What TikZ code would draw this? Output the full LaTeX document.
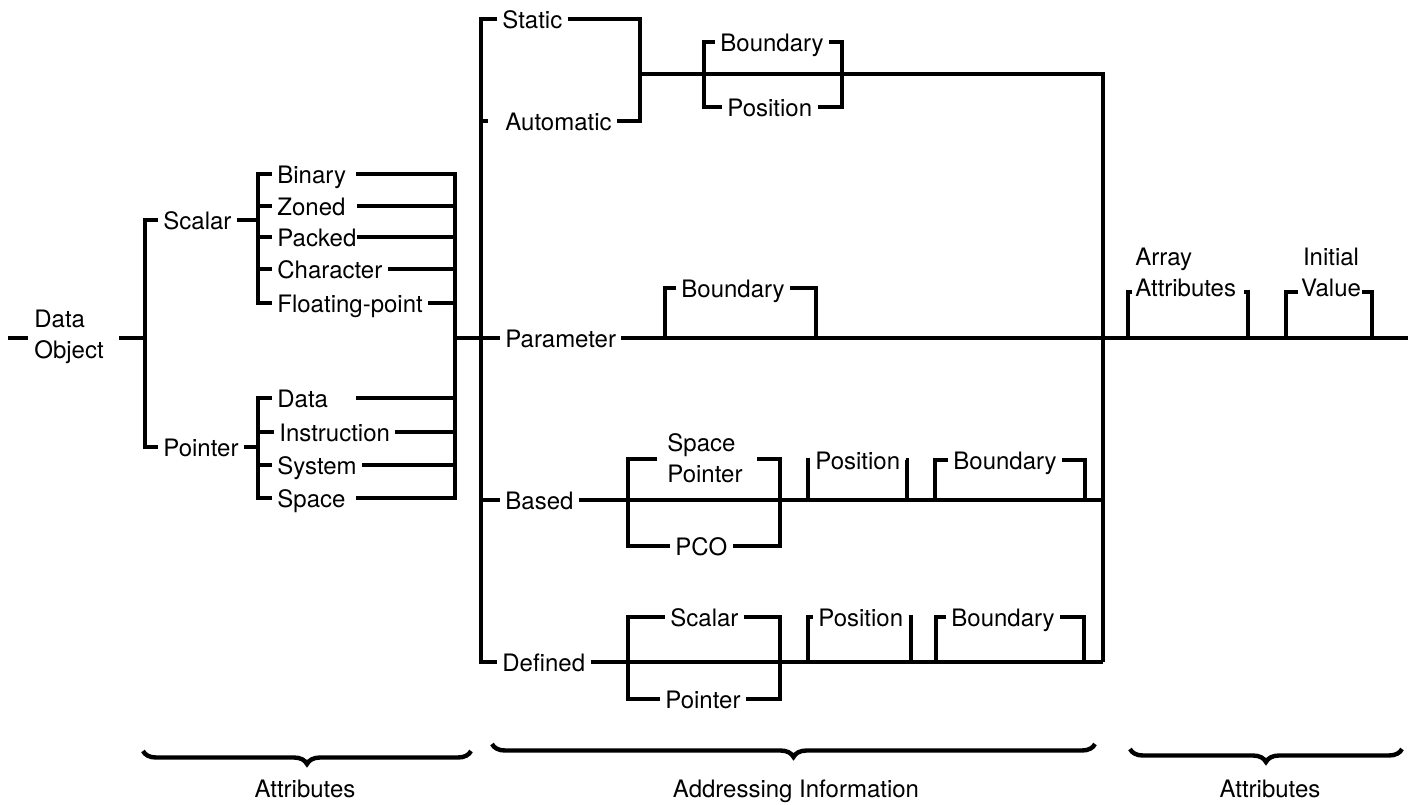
\documentclass[tikz,border=0pt]{standalone}
\usepackage{fontspec}
\setmainfont{TeX Gyre Heros}
\usetikzlibrary{decorations.pathreplacing}
\newcommand\lblfont{\fontsize{12}{15.5}\selectfont}
\begin{document}
\begin{tikzpicture}[x=0.5pt,y=-0.5pt,
  wire/.style={line width=1.6pt,line join=miter},
  lab/.style={anchor=base west,inner xsep=2.5pt,inner ysep=0pt,font=\lblfont},
  two/.style={align=left,inner sep=0pt,font=\lblfont},
  grouplab/.style={anchor=base,inner sep=0pt,font=\lblfont},
  brc/.style={decorate,decoration={brace,mirror,amplitude=6.5pt},line width=2.2pt},
]
\useasboundingbox (0,0) rectangle (1415,804);

% ---------- data object and its types ----------
\coordinate (dIn) at (8,338);
\coordinate (dOut) at (119,338);
\coordinate (jT) at (145,338);
\coordinate (jS) at (145,220);
\coordinate (jP) at (145,447);
\node[two,inner xsep=3pt,anchor=west] (dobj) at (28,337) {Data\\Object};
\node[lab] (scal) at (158,229) {Scalar};
\node[lab] (ptr) at (158,456) {Pointer};
\draw[wire] (dIn) -- (dobj.west |- dIn);
\draw[wire] (dOut) -- (jT);
\draw[wire] (scal.west |- jS) -- (jS) -- (jP) -- (ptr.west |- jP);

% scalar types
\coordinate (sTop) at (258,174);
\coordinate (sZ) at (258,206);
\coordinate (sK) at (258,237);
\coordinate (sC) at (258,269);
\coordinate (sBot) at (258,303);
\coordinate (sJ) at (258,220);
\node[lab] (bin) at (272,183) {Binary};
\node[lab] (zon) at (272,215) {Zoned};
\node[lab] (pak) at (272,246) {Packed};
\node[lab] (chr) at (272,278) {Character};
\node[lab] (flt) at (272,312) {Floating-point};
\draw[wire] (scal.east |- sJ) -- (sJ);
\draw[wire] (bin.west |- sTop) -- (sTop) -- (sBot) -- (flt.west |- sBot);
\draw[wire] (sZ) -- (zon.west |- sZ);
\draw[wire] (sK) -- (pak.west |- sK);
\draw[wire] (sC) -- (chr.west |- sC);

% pointer types
\coordinate (pTop) at (258,398);
\coordinate (pI) at (258,432);
\coordinate (pS) at (258,465);
\coordinate (pBot) at (258,498);
\coordinate (pJ) at (258,447);
\node[lab] (pdat) at (272,407) {Data};
\node[lab] (pins) at (274,441) {Instruction};
\node[lab] (psys) at (272,474) {System};
\node[lab] (pspc) at (272,507) {Space};
\draw[wire] (ptr.east |- pJ) -- (pJ);
\draw[wire] (pdat.west |- pTop) -- (pTop) -- (pBot) -- (pspc.west |- pBot);
\draw[wire] (pI) -- (pins.west |- pI);
\draw[wire] (pS) -- (psys.west |- pS);

% collecting rail
\coordinate (cTop) at (455,174);
\coordinate (cBot) at (455,498);
\coordinate (cOut) at (455,338);
\coordinate (bE) at (356,174);
\coordinate (zE) at (357,206);
\coordinate (kE) at (357,237);
\coordinate (dE) at (356,398);
\coordinate (yE) at (362,465);
\coordinate (qE) at (356,498);
\draw[wire] (bE) -- (cTop) -- (cBot) -- (qE);
\draw[wire] (zE) -- (cTop |- zE);
\draw[wire] (kE) -- (cTop |- kE);
\draw[wire] (chr.east |- sC) -- (cTop |- sC);
\draw[wire] (flt.east |- sBot) -- (cTop |- sBot);
\draw[wire] (dE) -- (cTop |- dE);
\draw[wire] (pins.east |- pI) -- (cTop |- pI);
\draw[wire] (yE) -- (cTop |- yE);

% ---------- addressing information ----------
\coordinate (mTop) at (481,19);
\coordinate (mA) at (481,121);
\coordinate (mB) at (481,500);
\coordinate (mBot) at (481,662);
\node[lab] (stat) at (497,28) {Static};
\node[lab] (auto) at (500,130) {Automatic};
\node[lab] (par) at (500,347) {Parameter};
\node[lab] (bas) at (500,509) {Based};
\node[lab] (def) at (497,671) {Defined};
\draw[wire] (stat.west |- mTop) -- (mTop) -- (mBot) -- (def.west |- mBot);
\draw[wire,shorten >=6pt] (mA) -- (auto.west |- mA);
\draw[wire] (mB) -- (bas.west |- mB);
\draw[wire] (cOut) -- (par.west |- cOut);

% static / automatic
\coordinate (saR) at (640,19);
\coordinate (saL) at (640,121);
\coordinate (saJ) at (640,74);
\coordinate (rTop) at (1103,74);
\coordinate (rBot) at (1103,662);
\draw[wire] (stat.east |- saR) -- (saR) -- (saL) -- (auto.east |- saL);
\draw[wire] (saJ) -- (rTop) -- (rBot);

\coordinate (tb1) at (704,42);
\coordinate (tb2) at (704,107);
\coordinate (tb3) at (842,42);
\coordinate (tb4) at (842,107);
\node[lab] (tbnd) at (715,51) {Boundary};
\node[lab] (tpos) at (722,116) {Position};
\draw[wire] (tbnd.west |- tb1) -- (tb1) -- (tb2) -- (tpos.west |- tb2);
\draw[wire] (tbnd.east |- tb3) -- (tb3) -- (tb4) -- (tpos.east |- tb4);

% parameter
\coordinate (outEnd) at (1408,338);
\draw[wire] (par.east |- cOut) -- (outEnd);
\coordinate (pb1) at (665,288);
\coordinate (pb2) at (665,338);
\coordinate (pb3) at (816,288);
\coordinate (pb4) at (816,338);
\node[lab] (pbnd) at (676,297) {Boundary};
\draw[wire] (pbnd.west |- pb1) -- (pb1) -- (pb2);
\draw[wire] (pbnd.east |- pb3) -- (pb3) -- (pb4);

% based
\draw[wire] (bas.east |- mB) -- (rTop |- mB);
\coordinate (bs1) at (628,459);
\coordinate (bs2) at (628,546);
\coordinate (bs3) at (780,459);
\coordinate (bs4) at (780,546);
\coordinate (bs1t) at (657,459);
\coordinate (bs3t) at (757,459);
\node[two,anchor=north west] (spp) at (667,433) {Space\\Pointer};
\node[lab] (pco) at (670,555) {PCO};
\draw[wire] (bs1t) -- (bs1) -- (bs2) -- (pco.west |- bs2);
\draw[wire] (bs3t) -- (bs3) -- (bs4) -- (pco.east |- bs4);
\coordinate (bp1) at (808,460);
\coordinate (bp2) at (808,500);
\coordinate (bp3) at (907,460);
\coordinate (bp4) at (907,500);
\node[lab] (bpos) at (810,469) {Position};
\draw[wire] (bpos.west |- bp1) -- (bp1) -- (bp2);
\draw[wire] (bpos.east |- bp3) -- (bp3) -- (bp4);
\coordinate (bb1) at (935,460);
\coordinate (bb2) at (935,500);
\coordinate (bb3) at (1085,460);
\coordinate (bb4) at (1085,500);
\node[lab] (bbnd) at (948,469) {Boundary};
\draw[wire] (bbnd.west |- bb1) -- (bb1) -- (bb2);
\draw[wire] (bbnd.east |- bb3) -- (bb3) -- (bb4);

% defined
\draw[wire] (def.east |- mBot) -- (rBot);
\coordinate (ds1) at (628,617);
\coordinate (ds2) at (628,699);
\coordinate (ds3) at (780,617);
\coordinate (ds4) at (780,699);
\node[lab] (dsc) at (665,626) {Scalar};
\node[lab] (dpt) at (660,708) {Pointer};
\draw[wire] (dsc.west |- ds1) -- (ds1) -- (ds2) -- (dpt.west |- ds2);
\draw[wire] (dsc.east |- ds3) -- (ds3) -- (ds4) -- (dpt.east |- ds4);
\coordinate (dp1) at (808,617);
\coordinate (dp2) at (808,662);
\coordinate (dp3) at (911,617);
\coordinate (dp4) at (911,662);
\node[lab] (dpos) at (813,626) {Position};
\draw[wire] (dpos.west |- dp1) -- (dp1) -- (dp2);
\draw[wire] (dpos.east |- dp3) -- (dp3) -- (dp4);
\coordinate (db1) at (936,617);
\coordinate (db2) at (936,662);
\coordinate (db3) at (1084,617);
\coordinate (db4) at (1084,662);
\node[lab] (dbnd) at (946,626) {Boundary};
\draw[wire] (dbnd.west |- db1) -- (db1) -- (db2);
\draw[wire] (dbnd.east |- db3) -- (db3) -- (db4);

% ---------- array and initial value ----------
\coordinate (aa1) at (1128,292);
\coordinate (aa2) at (1128,338);
\coordinate (aa3) at (1248,292);
\coordinate (aa4) at (1248,338);
\coordinate (aa1t) at (1132,292);
\coordinate (aa3t) at (1244,292);
\node[two,anchor=north west] (arr) at (1135,248) {Array\\Attributes};
\draw[wire] (aa1t) -- (aa1) -- (aa2);
\draw[wire] (aa3t) -- (aa3) -- (aa4);
\coordinate (iv1) at (1286,292);
\coordinate (iv2) at (1286,338);
\coordinate (iv3) at (1372,292);
\coordinate (iv4) at (1372,338);
\coordinate (iv1t) at (1298,292);
\coordinate (iv3t) at (1362,292);
\node[two,align=center,anchor=north] (ival) at (1331,248) {Initial\\Value};
\draw[wire] (iv1t) -- (iv1) -- (iv2);
\draw[wire] (iv3t) -- (iv3) -- (iv4);

% ---------- group braces ----------
\coordinate (b1l) at (143,751);
\coordinate (b1r) at (471,751);
\coordinate (b2l) at (492,744);
\coordinate (b2r) at (1095,744);
\coordinate (b3l) at (1130,749);
\coordinate (b3r) at (1402,749);
\draw[brc] (b1l) -- (b1r);
\draw[brc] (b2l) -- (b2r);
\draw[brc] (b3l) -- (b3r);
\node[grouplab] (g1) at (305,797) {Attributes};
\node[grouplab] (g2) at (796,797) {Addressing Information};
\node[grouplab] (g3) at (1270,797) {Attributes};
\end{tikzpicture}
\end{document}
